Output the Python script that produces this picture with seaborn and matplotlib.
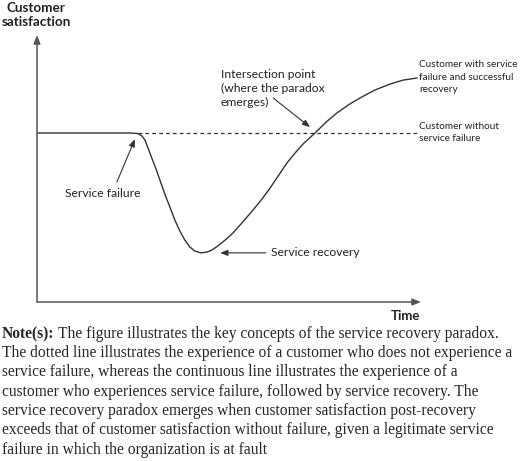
import numpy as np
import pandas as pd
import matplotlib
matplotlib.use("Agg")
import matplotlib.pyplot as plt
import seaborn as sns

# curve (time 0-100, satisfaction 0-100)
time_fail = [0, 16.4, 24.2, 26.3, 27.3, 28.1, 28.9, 29.9, 31.0, 32.0, 33.3, 34.6, 35.9, 37.2,
             38.5, 39.8, 41.1, 42.7, 44.3, 45.6, 47.1, 49.0, 51.0, 53.6, 56.3, 58.6, 60.7,
             63.0, 65.1, 67.2, 69.3, 72.4, 75.3, 78.1, 81.5, 84.6, 88.0, 91.9, 95.3, 99.0]
sat_fail = [63.3, 63.3, 63.3, 63.1, 62.2, 60.7, 57.7, 53.9, 49.8, 45.7, 40.4, 35.6, 30.7, 26.6,
            23.2, 20.6, 19.1, 18.4, 18.7, 19.5, 21.0, 23.2, 25.8, 30.0, 34.5, 38.6, 42.7,
            47.6, 52.1, 55.8, 59.2, 63.3, 67.4, 70.8, 74.2, 76.8, 79.4, 81.6, 83.1, 83.9]
time_nofail = [26.3, 98.9]
sat_nofail = [63.3, 63.3]

note_first = "The figure illustrates the key concepts of the service recovery paradox."
note_rest = ("The dotted line illustrates the experience of a customer who does not experience a\n"
             "service failure, whereas the continuous line illustrates the experience of a\n"
             "customer who experiences service failure, followed by service recovery. The\n"
             "service recovery paradox emerges when customer satisfaction post-recovery\n"
             "exceeds that of customer satisfaction without failure, given a legitimate service\n"
             "failure in which the organization is at fault")

sns.set_style("white")
plt.rcParams['font.family'] = ['Lato', 'DejaVu Sans']

fig = plt.figure(figsize=(5.2, 4.61), dpi=100)
ax = fig.add_axes([37/520, 159/461, 384/520, 267/461])
ax.set_xlim(0, 100)
ax.set_ylim(0, 100)
for s in ax.spines.values():
    s.set_visible(False)
ax.set_xticks([])
ax.set_yticks([])

ink = "#333333"
txt = "#222222"
df = pd.DataFrame({"t": time_fail, "s": sat_fail})
sns.lineplot(data=df, x="t", y="s", sort=False, color=ink, lw=1.0, ax=ax)
ax.plot(time_nofail, sat_nofail, color=ink, lw=0.9, ls=(0, (3, 2.5)))

# axes arrows
arr = dict(arrowstyle="-|>,head_length=0.5,head_width=0.2", color="#555555", lw=1.1, shrinkA=0, shrinkB=0)
ax.annotate("", xy=(0, 1), xytext=(0, 0), xycoords="axes fraction", arrowprops=arr, annotation_clip=False)
ax.annotate("", xy=(1, 0), xytext=(0, 0), xycoords="axes fraction", arrowprops=arr, annotation_clip=False)

fs = 8.7
small = 7.2
pointer = dict(arrowstyle="-|>,head_length=0.45,head_width=0.18", color=ink, lw=0.8, shrinkA=0, shrinkB=0)
ax.text(47.9, 87.3, "Intersection point\n(where the paradox\nemerges)", ha="left", va="top",
        fontsize=fs, color=txt, linespacing=1.32, clip_on=False)
ax.annotate("", xy=(71.1, 65.5), xytext=(61.5, 76.4), arrowprops=pointer)
ax.annotate("", xy=(25.5, 61.0), xytext=(20.8, 44.9), arrowprops=pointer)
ax.text(7.3, 40.8, "Service failure", fontsize=fs, va="center", ha="left", color=txt)
ax.annotate("", xy=(47.7, 18.4), xytext=(59.6, 18.4), arrowprops=pointer)
ax.text(60.9, 18.4, "Service recovery", fontsize=fs, va="center", ha="left", color=txt)

ax.text(99.6, 90.5, "Customer with service\nfailure and successful\nrecovery", fontsize=small,
        va="top", ha="left", color=txt, linespacing=1.5, clip_on=False)
ax.text(99.6, 67.6, "Customer without\nservice failure", fontsize=small,
        va="top", ha="left", color=txt, linespacing=1.5, clip_on=False)

fig.text(36/520, 1 - 15/461, "Customer\nsatisfaction", ha="center", va="center",
         fontsize=9.7, fontweight="bold", color=txt, linespacing=1.1)
fig.text(405/520, 1 - 316/461, "Time", ha="center", va="center", fontsize=9.5,
         fontweight="bold", color=txt)

# note below the chart
serif = ['Liberation Serif', 'DejaVu Serif']
nfs = 11.2
top = 1 - 326/461
lab = fig.text(2/520, top, "Note(s):", family=serif, fontweight="bold", fontsize=nfs, va="top", ha="left")
r = fig.canvas.get_renderer()
x1 = lab.get_window_extent(r).x1 / fig.bbox.width
fig.text(x1 + 4/520, top, note_first, family=serif, fontsize=nfs, va="top", ha="left")
fig.text(2/520, 1 - 345/461, note_rest, family=serif, fontsize=nfs, va="top", ha="left",
         linespacing=1.28)

fig.savefig("out.png", dpi=100)
